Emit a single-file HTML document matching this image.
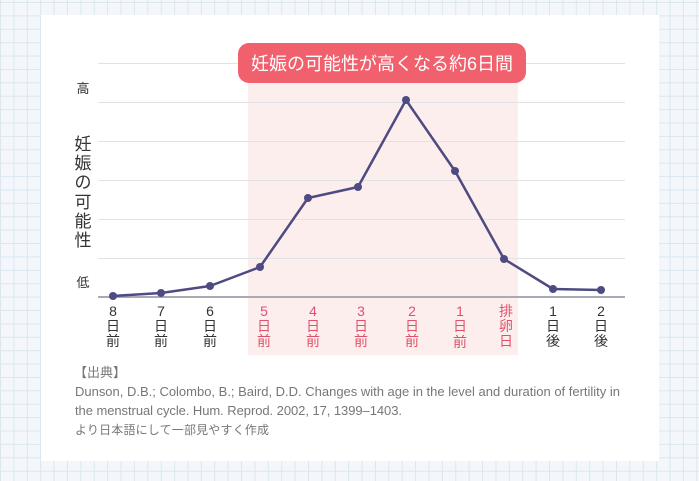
<!DOCTYPE html>
<html><head><meta charset="utf-8"><style>
body{margin:0;width:699px;height:481px;overflow:hidden;font-family:"Liberation Sans","Noto Sans CJK JP",sans-serif;
background-color:#f3f7fb;background-image:linear-gradient(#dbe6ef 1px,transparent 1px),linear-gradient(90deg,#dbe6ef 1px,transparent 1px);background-size:13.4px 13.4px;background-position:0 2px}
</style></head><body>
<svg width="699" height="481" style="position:absolute;left:0;top:0" font-family="Liberation Sans, Noto Sans CJK JP, sans-serif">
<rect x="41" y="15" width="618" height="446" fill="#fff"/>
<rect x="248" y="63" width="270" height="292" fill="#fdeeee"/>
<g stroke="#e2e2e6" stroke-width="1">
<line x1="98" x2="625" y1="63.5" y2="63.5"/><line x1="98" x2="625" y1="102.5" y2="102.5"/>
<line x1="98" x2="625" y1="141.5" y2="141.5"/><line x1="98" x2="625" y1="180.5" y2="180.5"/>
<line x1="98" x2="625" y1="219.5" y2="219.5"/><line x1="98" x2="625" y1="258.5" y2="258.5"/>
</g>
<line x1="98" x2="625" y1="297" y2="297" stroke="#aaaab4" stroke-width="2"/>
<rect x="238" y="43" width="288" height="40" rx="11" fill="#f0606d"/>
<text x="382" y="70" text-anchor="middle" fill="#fff" font-size="18" textLength="262">妊娠の可能性が高くなる約6日間</text>
<text x="83" y="93" text-anchor="middle" font-size="13" fill="#333">高</text>
<text x="83" y="287" text-anchor="middle" font-size="13" fill="#333">低</text>
<g font-size="17" fill="#333" text-anchor="middle">
<text x="83" y="150">妊</text><text x="83" y="169">娠</text><text x="83" y="188">の</text><text x="83" y="208">可</text><text x="83" y="227">能</text><text x="83" y="246">性</text>
</g>
<polyline fill="none" stroke="#4e4a82" stroke-width="2.5" stroke-linejoin="round" points="113,296 161,293 210,286 260,267 308,198 358,187 406,100 455,171 504,259 553,289 601,290"/>
<g fill="#4e4a82">
<circle cx="113" cy="296" r="4"/><circle cx="161" cy="293" r="4"/><circle cx="210" cy="286" r="4"/><circle cx="260" cy="267" r="4"/><circle cx="308" cy="198" r="4"/><circle cx="358" cy="187" r="4"/><circle cx="406" cy="100" r="4"/><circle cx="455" cy="171" r="4"/><circle cx="504" cy="259" r="4"/><circle cx="553" cy="289" r="4"/><circle cx="601" cy="290" r="4"/>
</g>
<g font-size="14" text-anchor="middle">
<g fill="#333"><text x="113" y="316">8</text><text x="113" y="331">日</text><text x="113" y="346">前</text></g>
<g fill="#333"><text x="161" y="316">7</text><text x="161" y="331">日</text><text x="161" y="346">前</text></g>
<g fill="#333"><text x="210" y="316">6</text><text x="210" y="331">日</text><text x="210" y="346">前</text></g>
<g fill="#e0506a"><text x="264" y="316">5</text><text x="264" y="331">日</text><text x="264" y="346">前</text></g>
<g fill="#e0506a"><text x="313" y="316">4</text><text x="313" y="331">日</text><text x="313" y="346">前</text></g>
<g fill="#e0506a"><text x="361" y="316">3</text><text x="361" y="331">日</text><text x="361" y="346">前</text></g>
<g fill="#e0506a"><text x="412" y="316">2</text><text x="412" y="331">日</text><text x="412" y="346">前</text></g>
<g fill="#e0506a"><text x="460" y="316">1</text><text x="460" y="331">日</text><text x="460" y="347">前</text></g>
<g fill="#e0506a"><text x="506" y="316">排</text><text x="506" y="331">卵</text><text x="506" y="346">日</text></g>
<g fill="#333"><text x="553" y="316">1</text><text x="553" y="331">日</text><text x="553" y="346">後</text></g>
<g fill="#333"><text x="601" y="316">2</text><text x="601" y="331">日</text><text x="601" y="346">後</text></g>
</g>
<g font-size="13" fill="#777">
<text x="74" y="377">【出典】</text>
<text x="75" y="396" textLength="545">Dunson, D.B.; Colombo, B.; Baird, D.D. Changes with age in the level and duration of fertility in</text>
<text x="75" y="415" textLength="327">the menstrual cycle. Hum. Reprod. 2002, 17, 1399–1403.</text>
<text x="75" y="434" font-size="12" textLength="194">より日本語にして一部見やすく作成</text>
</g>
</svg>
</body></html>
